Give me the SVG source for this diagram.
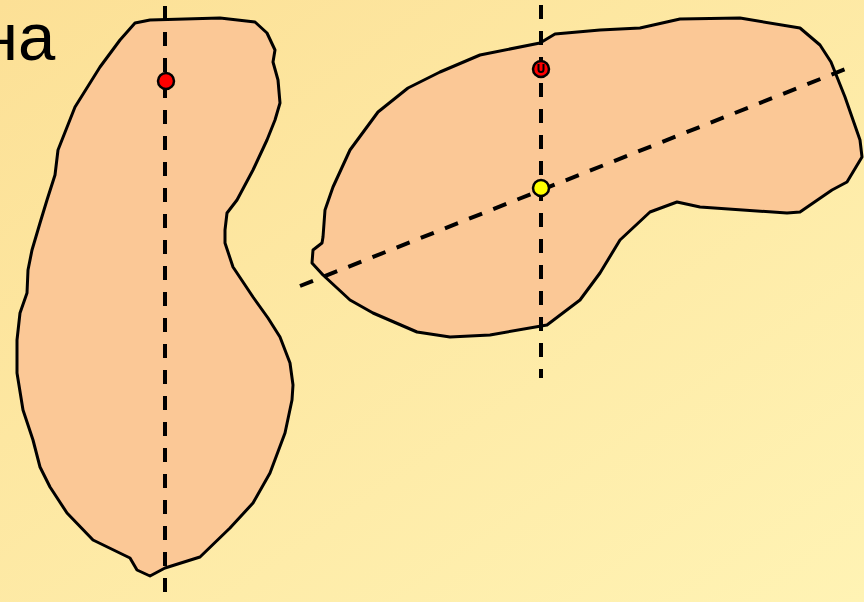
<svg xmlns="http://www.w3.org/2000/svg" width="864" height="602" viewBox="0 0 864 602">
  <defs>
    <linearGradient id="bg" x1="0" y1="0" x2="1" y2="1">
      <stop offset="0" stop-color="#FCE096"/>
      <stop offset="1" stop-color="#FFF3B4"/>
    </linearGradient>
  </defs>
  <style>
    .shape { fill: #FBC896; stroke: #000; stroke-width: 3; stroke-linejoin: round; }
    .axis { stroke: #000; stroke-width: 4; stroke-dasharray: 14 12; fill: none; }
    .dot { stroke: #000; stroke-width: 2.5; }
  </style>
  <rect x="0" y="0" width="864" height="602" fill="url(#bg)"/>
  <text x="-19" y="60" font-family="Liberation Sans, Arial, sans-serif" font-size="67" fill="#000">на</text>

  <g id="left-shape">
    <path class="shape" d="M135,23 L150,20 L185,19 L220,18 L255,22 L267,33 L275,50 L273,62 L278,80 L280,103 L275,120 L267,140 L253,170 L237,200 L227,213 L225,230 L225,243 L233,267 L253,297 L268,318 L280,337 L290,363 L293,385 L292,400 L285,433 L270,473 L253,503 L230,528 L200,557 L165,568 L150,576 L137,570 L130,558 L93,540 L67,513 L50,487 L40,467 L33,440 L23,410 L17,373 L17,340 L20,313 L27,293 L28,270 L32,250 L40,223 L47,200 L55,175 L58,150 L75,107 L100,67 L120,40 Z"/>
  </g>
  <g id="right-shape">
    <path class="shape" d="M440,72 L480,55 L540,43 L555,34 L600,30 L640,28 L680,19 L740,18 L800,28 L820,45 L831,62 L845,97 L860,140 L862,157 L847,182 L832,190 L800,212 L787,213 L700,207 L677,202 L650,212 L620,240 L600,273 L580,300 L547,325 L490,335 L450,337 L417,332 L373,313 L350,300 L323,275 L312,263 L313,250 L322,243 L323,237 L325,210 L333,187 L350,150 L378,112 L408,88 Z"/>
  </g>

  <g id="connectors">
    <line class="axis" x1="165" y1="6" x2="165" y2="598"/>
    <line class="axis" x1="541" y1="5" x2="541" y2="378"/>
    <line class="axis" x1="300" y1="286" x2="848" y2="68"/>
  </g>

  <g id="left-red-point">
    <circle class="dot" cx="166" cy="81" r="8" fill="#FF0000"/>
  </g>
  <g id="right-red-point">
    <circle class="dot" cx="541" cy="69" r="8" fill="#FF0000"/>
    <path d="M538.5,64 V69.5 A2.5,2.5 0 0 0 543.5,69.5 V64" stroke="#000" stroke-width="2" fill="none"/>
  </g>
  <g id="yellow-point">
    <circle class="dot" cx="541" cy="188" r="8" fill="#FFFF00"/>
  </g>
</svg>
